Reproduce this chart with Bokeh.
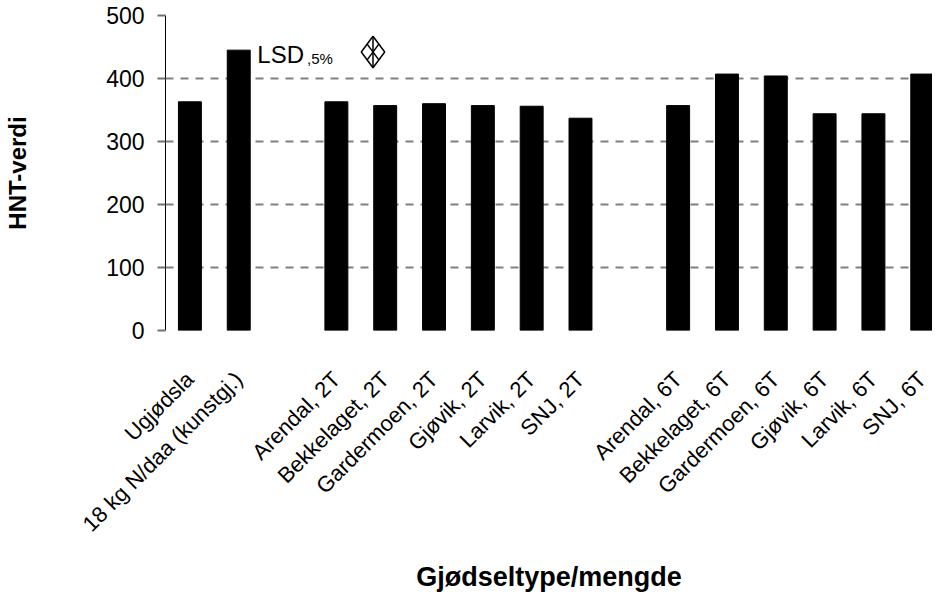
import math
from bokeh.plotting import figure
from bokeh.models import Range1d, FixedTicker, Label, ColumnDataSource
from bokeh.embed import file_html
from bokeh.resources import INLINE

# ---- data ----
categories = ["Ugjødsla", "18 kg N/daa (kunstgj.)", "",
              "Arendal, 2T", "Bekkelaget, 2T", "Gardermoen, 2T", "Gjøvik, 2T", "Larvik, 2T", "SNJ, 2T", "",
              "Arendal, 6T", "Bekkelaget, 6T", "Gardermoen, 6T", "Gjøvik, 6T", "Larvik, 6T", "SNJ, 6T"]
hnt_values = [363, 445, None,
              363, 357, 360, 357, 356, 337, None,
              357, 407, 404, 344, 344, 407]
y_ticks = [0, 100, 200, 300, 400, 500]
lsd_value = 50       # length of LSD 5% bar
lsd_center = 442     # vertical centre of LSD symbol
lsd_slot = 3.75      # horizontal slot of LSD symbol

FONT = "Liberation Sans"

xs = [i for i, v in enumerate(hnt_values) if v is not None]
tops = [v for v in hnt_values if v is not None]
src = ColumnDataSource(dict(x=xs, top=tops))

p = figure(frame_width=767, frame_height=315,
           x_range=Range1d(-0.5, 15.21), y_range=Range1d(0, 500),
           output_backend="svg", toolbar_location=None,
           min_border_left=165, min_border_right=0, min_border_top=15, min_border_bottom=259)
p.outline_line_color = None
p.background_fill_color = "white"
p.border_fill_color = "white"

p.vbar(x="x", top="top", width=0.47, bottom=0, source=src,
       fill_color="black", line_color="black")

# grid
p.xgrid.grid_line_color = None
p.ygrid.ticker = FixedTicker(ticks=y_ticks)
p.ygrid.grid_line_color = "#808080"
p.ygrid.grid_line_dash = "8 7"
p.ygrid.grid_line_width = 2

# y axis
p.yaxis.ticker = FixedTicker(ticks=y_ticks)
p.yaxis.axis_line_color = "black"
p.yaxis.axis_line_width = 1
p.yaxis.major_tick_line_color = "#707070"
p.yaxis.major_tick_line_width = 2
p.yaxis.major_tick_out = 8
p.yaxis.major_tick_in = 0
p.yaxis.minor_tick_line_color = None
p.yaxis.major_label_standoff = 13
p.yaxis.major_label_text_font = FONT
p.yaxis.major_label_text_font_size = "23px"
p.yaxis.major_label_text_color = "black"
p.yaxis.axis_label = "HNT-verdi"
p.yaxis.axis_label_text_font = FONT
p.yaxis.axis_label_text_font_style = "bold"
p.yaxis.axis_label_text_font_size = "24px"
p.yaxis.axis_label_text_color = "black"
p.yaxis.axis_label_standoff = 72

# x axis
p.xaxis.ticker = FixedTicker(ticks=xs)
p.xaxis.major_label_overrides = {i: categories[i] for i in xs}
p.xaxis.axis_line_color = None
p.xaxis.major_tick_line_color = None
p.xaxis.minor_tick_line_color = None
p.xaxis.major_label_orientation = math.pi / 4
p.xaxis.major_label_text_font = FONT
p.xaxis.major_label_text_font_size = "22px"
p.xaxis.major_label_text_color = "black"
p.xaxis.major_label_standoff = 39
p.xaxis.axis_label = "Gjødseltype/mengde"
p.xaxis.axis_label_text_font = FONT
p.xaxis.axis_label_text_font_style = "bold"
p.xaxis.axis_label_text_font_size = "27px"
p.xaxis.axis_label_text_color = "black"
p.xaxis.axis_label_standoff = 14

# LSD annotation
p.add_layout(Label(x=1.38, y=438, text="LSD", text_font=FONT, text_font_size="24px",
                   text_color="black", text_baseline="alphabetic"))
p.add_layout(Label(x=2.40, y=432, text=",5%", text_font=FONT, text_font_size="15px",
                   text_color="black", text_baseline="alphabetic"))
hw = 0.24
top_y = lsd_center + lsd_value / 2
bot_y = lsd_center - lsd_value / 2
p.multi_line(
    xs=[[lsd_slot, lsd_slot],
        [lsd_slot, lsd_slot + hw, lsd_slot, lsd_slot - hw, lsd_slot],
        [lsd_slot - hw / 2, lsd_slot + hw / 2],
        [lsd_slot - hw / 2, lsd_slot + hw / 2]],
    ys=[[top_y, bot_y],
        [top_y, lsd_center, bot_y, lsd_center, top_y],
        [lsd_center + lsd_value / 4, lsd_center - lsd_value / 4],
        [lsd_center - lsd_value / 4, lsd_center + lsd_value / 4]],
    line_color="black", line_width=1.5)

open("out.html", "w").write(file_html(p, INLINE))
